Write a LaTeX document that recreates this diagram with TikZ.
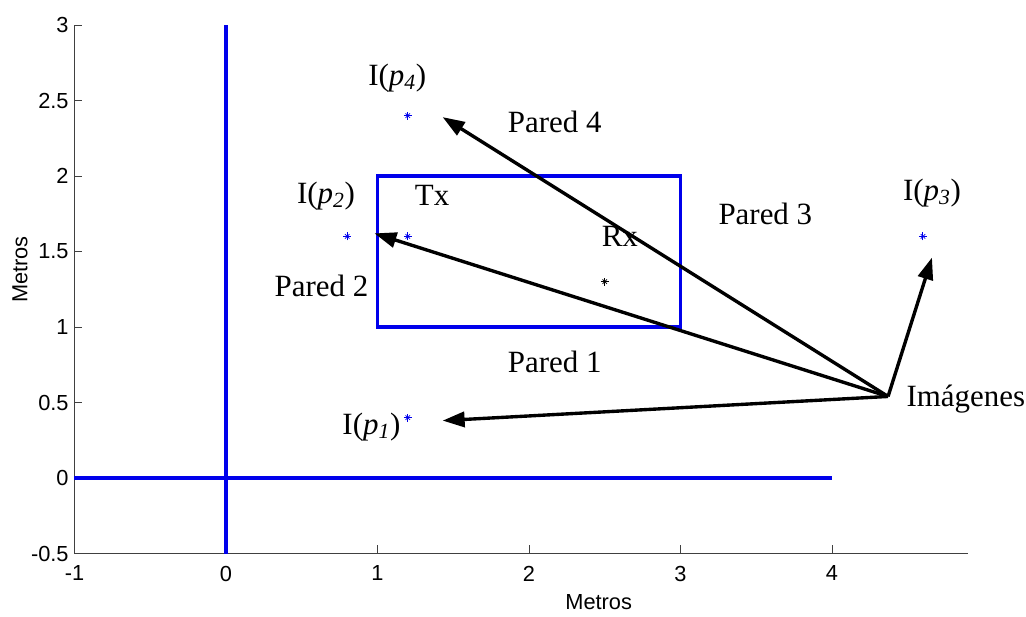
\documentclass[tikz,border=0pt]{standalone}
\usepackage{fontspec}
\setmainfont{Liberation Serif}
\newfontfamily\ejesfont{Liberation Sans}
\usetikzlibrary{arrows.meta}
\definecolor{azul}{RGB}{0,0,235}
\newcommand{\imagen}[1]{I(\textit{p}\textsubscript{\textit{#1}})}

\begin{document}
\begin{tikzpicture}[x=3.7875cm, y=3.775cm,
    pared/.style={draw=azul, line width=2.2pt},
    eje/.style={draw=black!75, line width=0.6pt},
    etiq/.style={font=\fontsize{22}{26}\selectfont, inner sep=0pt},
    num/.style={font=\ejesfont\fontsize{15.5}{18}\selectfont, inner sep=0pt},
    flecha/.style={-{Triangle[length=0.55cm, width=0.38cm]}, line width=2.4pt, draw=black}
]
\useasboundingbox (-5.65cm,-3.45cm) rectangle (20cm,11.95cm);

% ejes
\draw[eje] (-1,3) -- (-1,-0.5) -- (4.9,-0.5);
\foreach \x in {-1,...,4} {
    \draw[eje] (\x,-0.5) -- ++(0,0.22cm);
    \node[num, anchor=north] at ([yshift=-0.3cm]\x,-0.5) {\x};
}
\foreach \y/\t in {-0.5/-0.5, 0/0, 0.5/0.5, 1/1, 1.5/1.5, 2/2, 2.5/2.5, 3/3} {
    \draw[eje] (-1,\y) -- ++(0.2cm,0);
    \node[num, anchor=east] at ([xshift=-0.14cm]-1,\y) {\t};
}
\node[num] (xlab) at (2.46,-0.82) {Metros};
\node[num, rotate=90] (ylab) at (-1.36,1.38) {Metros};

% paredes
\draw[pared] (-1,0) -- (4,0);
\draw[pared] (0,-0.5) -- (0,3);
\draw[pared] (1,1) rectangle (3,2);

% puntos
\coordinate (tx) at (1.2,1.6);
\coordinate (rx) at (2.5,1.3);
\coordinate (p1) at (1.2,0.4);
\coordinate (p2) at (0.8,1.6);
\coordinate (p3) at (4.6,1.6);
\coordinate (p4) at (1.2,2.4);
\foreach \p/\c in {tx/azul, rx/black, p1/azul, p2/azul, p3/azul, p4/azul} {
    \draw[\c, line width=0.7pt] ([xshift=-2.8pt]\p) -- ([xshift=2.8pt]\p)
        ([yshift=-2.8pt]\p) -- ([yshift=2.8pt]\p);
    \draw[\c, line width=0.5pt] ([shift={(-1.6pt,-1.6pt)}]\p) -- ([shift={(1.6pt,1.6pt)}]\p)
        ([shift={(-1.6pt,1.6pt)}]\p) -- ([shift={(1.6pt,-1.6pt)}]\p);
}

% etiquetas
\node[etiq] (ltx) at (1.36,1.87) {Tx};
\node[etiq] (lrx) at (2.60,1.60) {Rx};
\node[etiq] (lp1) at (0.96,0.34) {\imagen{1}};
\node[etiq] (lp2) at (0.66,1.87) {\imagen{2}};
\node[etiq] (lp3) at (4.66,1.89) {\imagen{3}};
\node[etiq] (lp4) at (1.13,2.65) {\imagen{4}};
\node[etiq] (w1) at (2.17,0.77) {Pared 1};
\node[etiq] (w2) at (0.63,1.27) {Pared 2};
\node[etiq] (w3) at (3.56,1.75) {Pared 3};
\node[etiq] (w4) at (2.17,2.36) {Pared 4};

% imagenes
\coordinate (img) at (4.37,0.54);
\node[etiq, anchor=west] (limg) at (4.49,0.52) {Imágenes};
\coordinate (f1) at (1.43,0.38);
\coordinate (f2) at (0.98,1.62);
\coordinate (f3) at (4.66,1.46);
\coordinate (f4) at (1.43,2.39);
\foreach \f in {f1,f2,f3,f4}
    \draw[flecha] (img) -- (\f);
\end{tikzpicture}
\end{document}
